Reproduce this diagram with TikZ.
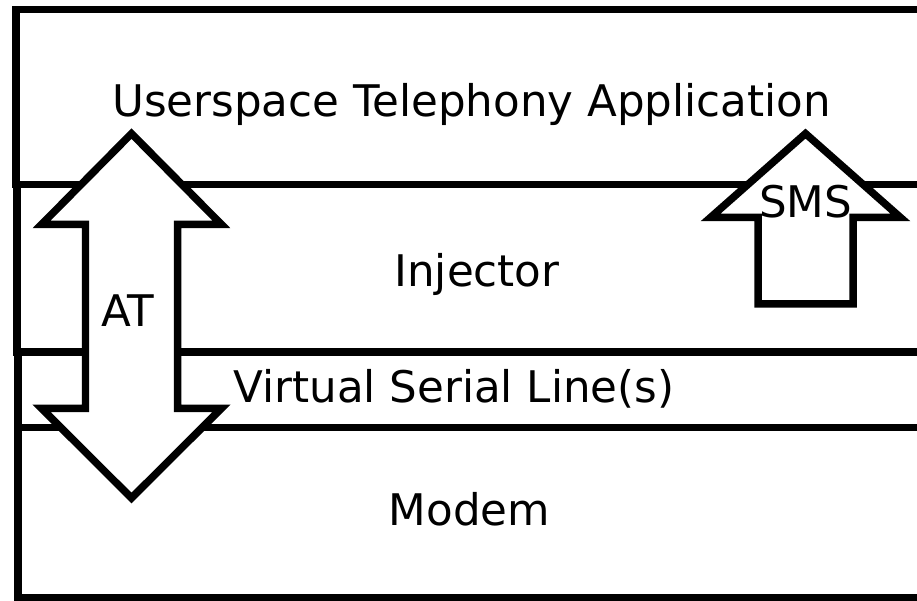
\documentclass[tikz,border=0pt]{standalone}
\usepackage{fontspec}
\setmainfont{DejaVu Sans}
\usepackage{tikz}
\usetikzlibrary{positioning}

\begin{document}
\begin{tikzpicture}[
  x=0.02cm, y=-0.02cm,
  font=\fontsize{24.8}{29}\selectfont,
  layer/.style={draw=black, line width=0.15cm, fill=white},
  bigarrow/.style={draw=black, line width=0.15cm, fill=white, line join=miter},
  lbl/.style={inner sep=0pt, anchor=base},
]
\useasboundingbox (0,0) rectangle (917,601);
\clip (0,0) rectangle (917,601);

%% STACKED LAYERS (open to the right)
\draw[layer] (16,9.5)  rectangle (960,184.5);
\draw[layer] (17,184.5) rectangle (960,352);
\draw[layer] (18,352)  rectangle (960,427.5);
\draw[layer] (18,427.5) rectangle (960,598);

%% AT double arrow
\draw[bigarrow] (131.5,133.6) -- (221.5,224.5) -- (177.5,224.5) -- (177.5,408.3)
  -- (221.5,408.3) -- (131.5,498) -- (41.5,408.3) -- (85.5,408.3)
  -- (85.5,224.5) -- (41.5,224.5) -- cycle;

%% SMS up arrow
\draw[bigarrow] (805.5,133.6) -- (900.5,217.5) -- (853,217.5) -- (853,304)
  -- (758,304) -- (758,217.5) -- (710.5,217.5) -- cycle;

%% LABELS
\node[lbl] (app)    at (471.5,117) {Userspace Telephony Application};
\node[lbl] (inj)    at (477,287)   {Injector};
\node[lbl] (serial) at (454,403)   {Virtual Serial Line(s)};
\node[lbl] (modem)  at (469.5,525) {Modem};
\node[lbl] (at)     at (128,327)   {AT};
\node[lbl] (sms)    at (805.5,218) {SMS};

\end{tikzpicture}
\end{document}
